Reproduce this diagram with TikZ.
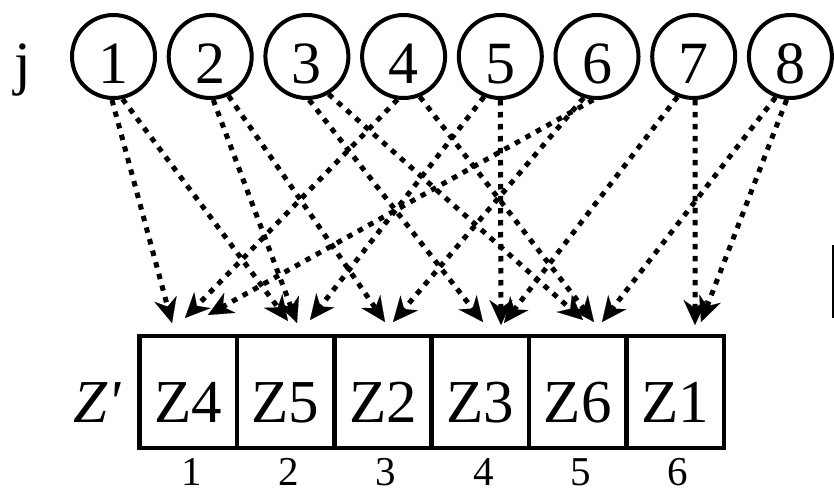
\documentclass[tikz,border=0pt]{standalone}
\usepackage{fontspec}
\setmainfont{Liberation Serif}
\newfontfamily\zfont{Liberation Serif}[Ligatures=TeXOff]
\usetikzlibrary{arrows.meta}
\begin{document}
\begin{tikzpicture}[x=1pt,y=-1pt,
  jnode/.style={circle,draw,line width=4pt,minimum size=83pt,inner sep=0pt,
    font=\fontsize{60}{60}\selectfont,text height=54pt,text depth=0pt},
  cell/.style={rectangle,draw,line width=4.5pt,minimum width=97.4pt,minimum height=112pt,
    inner sep=0pt,font=\fontsize{61}{61}\selectfont,text height=60pt,text depth=0pt},
  idx/.style={anchor=base,inner sep=0pt,font=\fontsize{41}{41}\selectfont},
  link/.style={line width=5pt,dash pattern=on 5.5pt off 6.5pt,
    -{Stealth[length=25pt,width=23pt,inset=8pt,line width=0.1pt]}},
]
\useasboundingbox (0,0) rectangle (834,494);

% labels
\node[anchor=base,inner sep=0pt,font=\fontsize{60}{60}\selectfont] (jlab) at (23,84) {j};
\node[anchor=base east,inner sep=0pt,font=\fontsize{61}{61}\selectfont] (zlab) at (121,422) {\zfont\itshape Z'};

% circles
\foreach \i in {1,...,8}{
  \node[jnode] (c\i) at ({113.5+96.7*(\i-1)},56.5) {\i};
}

% cells
\node[cell] (cell1) at (188.2,392) {Z4};
\node[cell] (cell2) at (285.6,392) {Z5};
\node[cell] (cell3) at (383.0,392) {Z2};
\node[cell] (cell4) at (480.4,392) {Z3};
\node[cell] (cell5) at (577.8,392) {Z6};
\node[cell] (cell6) at (675.2,392) {Z1};

% indices
\node[idx] (n1) at (191.5,485) {1};
\node[idx] (n2) at (289,485) {2};
\node[idx] (n3) at (386,485) {3};
\node[idx] (n4) at (483.5,485) {4};
\node[idx] (n5) at (581,485) {5};
\node[idx] (n6) at (678,485) {6};

% arrow end points
\coordinate (e11) at (172,323);
\coordinate (e41) at (185,318);
\coordinate (e61) at (208,315);
\coordinate (e12) at (288,321);
\coordinate (e22) at (297,323);
\coordinate (e52) at (310,320);
\coordinate (e23) at (385,322);
\coordinate (e63) at (393,322);
\coordinate (e34) at (483,322);
\coordinate (e54) at (501,325);
\coordinate (e74) at (504,323);
\coordinate (e35) at (583,320);
\coordinate (e45) at (594,322);
\coordinate (e85) at (602,322);
\coordinate (e76) at (695,325);
\coordinate (e86) at (701,322);

% links
\draw[link] (c1.-92) -- (e11);
\draw[link] (c1.-78) -- (e12);
\draw[link] (c2.-86) -- (e22);
\draw[link] (c2.-65) -- (e23);
\draw[link] (c3.-87) -- (e34);
\draw[link] (c3.-60) -- (e35);
\draw[link] (c4.-98) -- (e41);
\draw[link] (c4.-68) -- (e45);
\draw[link] (c5.-112) -- (e52);
\draw[link] (c5.-90) -- (e54);
\draw[link] (c6.-95) -- (e61);
\draw[link] (c6.-108) -- (e63);
\draw[link] (c7.-112) -- (e74);
\draw[link] (c7.-88) -- (e76);
\draw[link] (c8.-110) -- (e85);
\draw[link] (c8.-95) -- (e86);

% edge bar at the right
\fill (831.5,245) rectangle (834,318);
\end{tikzpicture}
\end{document}
